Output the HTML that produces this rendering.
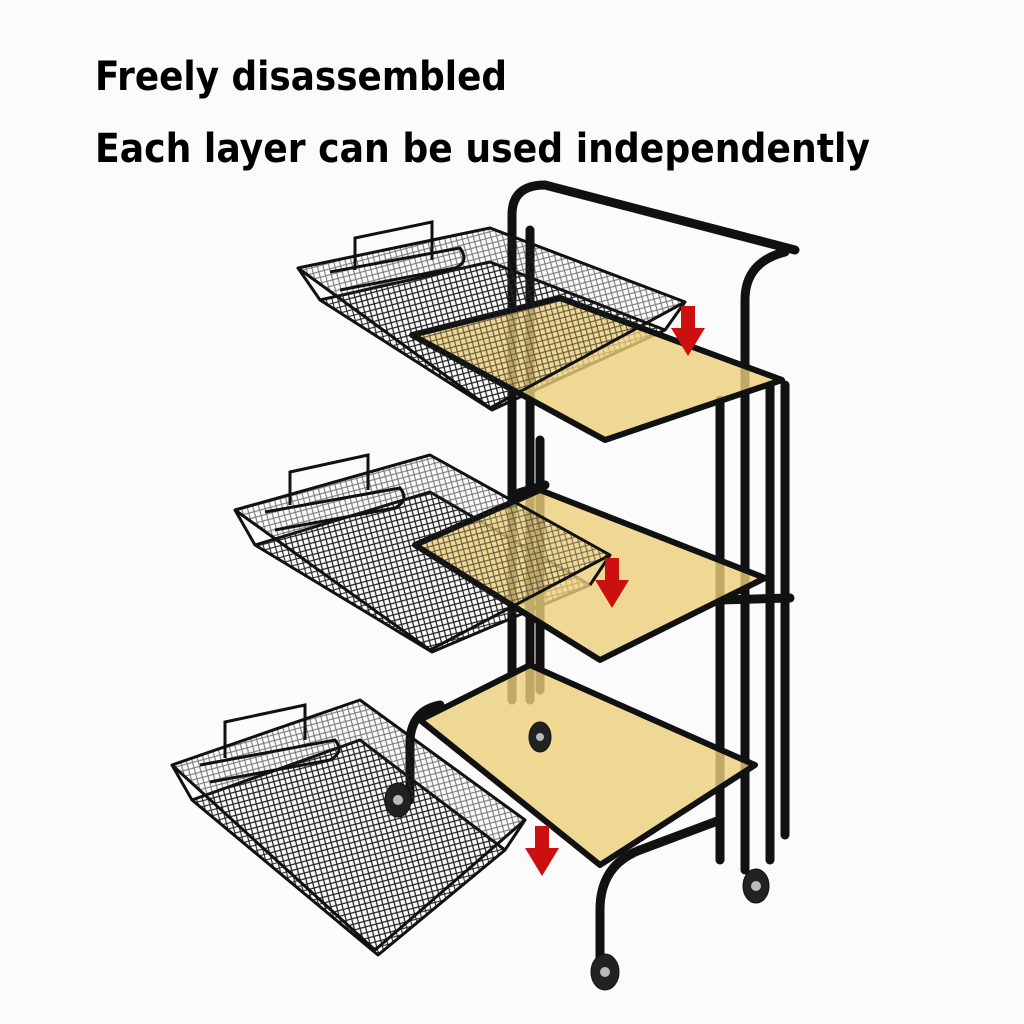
<!DOCTYPE html>
<html><head><meta charset="utf-8">
<style>
html,body{margin:0;padding:0;background:#fbfbfb;}
svg{display:block;}
</style></head>
<body>
<svg width="1024" height="1024" viewBox="0 0 1024 1024" xmlns="http://www.w3.org/2000/svg">
<defs>
<pattern id="mesh" width="8" height="8" patternUnits="userSpaceOnUse" patternTransform="rotate(30)">
<path d="M0 0L8 8M8 0L0 8" stroke="#222" stroke-width="1.1" fill="none"/>
</pattern>
</defs>
<rect width="1024" height="1024" fill="#fbfbfb"/>
<text x="95" y="90" font-family="DejaVu Sans, sans-serif" font-weight="bold" font-size="40" fill="#000" textLength="412" lengthAdjust="spacingAndGlyphs">Freely disassembled</text>
<text x="95" y="162" font-family="DejaVu Sans, sans-serif" font-weight="bold" font-size="40" fill="#000" textLength="775" lengthAdjust="spacingAndGlyphs">Each layer can be used independently</text>

<!-- frame -->
<g stroke="#111" stroke-width="9" fill="none" stroke-linecap="round">
<path d="M512 700 L512 215 Q512 185 545 185 L795 250"/>
<path d="M530 700 L530 230"/>
<path d="M745 870 L745 300 Q745 262 785 252"/>
<path d="M770 860 L770 385"/>
<path d="M785 835 L785 385"/>
<path d="M720 860 L720 400"/>
<path d="M540 690 L540 440"/>
<path d="M600 980 L600 910 Q600 865 640 850 L720 820"/>
<path d="M410 800 L410 740 Q412 710 440 705"/>
<path d="M720 600 L790 598"/>
<path d="M512 495 L545 485"/>
</g>

<!-- baskets (depth) -->
<g stroke="#111" stroke-width="3" fill="url(#mesh)" stroke-linejoin="round">
<polygon points="320,300 490,262 665,330 492,410"/>
<polygon points="255,545 430,492 590,585 432,652"/>
<polygon points="192,800 360,740 505,850 378,955"/>
</g>

<!-- shelves -->
<g stroke="#111" stroke-width="6" fill="#ecd07a" fill-opacity="0.8" stroke-linejoin="round">
<polygon points="412,335 560,298 782,380 605,440"/>
<polygon points="415,545 540,490 765,578 600,660"/>
<polygon points="420,720 530,665 755,765 600,865"/>
</g>

<!-- baskets (top rims) -->
<g stroke="#111" stroke-width="3" fill="url(#mesh)" fill-opacity="0.6" stroke-linejoin="round">
<polygon points="298,268 490,228 685,302 490,408"/>
<polygon points="235,510 430,455 610,555 430,650"/>
<polygon points="172,765 360,700 525,820 375,950"/>
</g>
<g stroke="#111" stroke-width="3" fill="none">
<path d="M298 268 L320 300 M685 302 L665 330 M235 510 L255 545 M610 555 L590 585 M172 765 L192 800 M525 820 L505 850"/>
<path d="M355 270 L355 238 L432 222 L432 260 M330 272 L460 248 Q470 262 455 268 L340 290"/>
<path d="M290 505 L290 472 L368 455 L368 490 M265 512 L400 488 Q410 500 395 508 L275 530"/>
<path d="M225 758 L225 722 L305 705 L305 740 M200 765 L335 740 Q345 752 330 760 L210 782"/>
</g>

<!-- arrows -->
<g fill="#cc1010">
<path d="M681 306 h14 v22 h10 l-17 28 l-17 -28 h10z"/>
<path d="M605 558 h14 v22 h10 l-17 28 l-17 -28 h10z"/>
<path d="M535 826 h14 v22 h10 l-17 28 l-17 -28 h10z"/>
</g>

<!-- wheels -->
<g fill="#222" stroke="#111">
<ellipse cx="605" cy="972" rx="14" ry="18"/>
<ellipse cx="756" cy="886" rx="13" ry="17"/>
<ellipse cx="398" cy="800" rx="13" ry="17"/>
<ellipse cx="540" cy="737" rx="11" ry="15"/>
</g>
<g fill="#bbb">
<circle cx="605" cy="972" r="5"/><circle cx="756" cy="886" r="5"/><circle cx="398" cy="800" r="5"/><circle cx="540" cy="737" r="4"/>
</g>
</svg>
</body></html>
